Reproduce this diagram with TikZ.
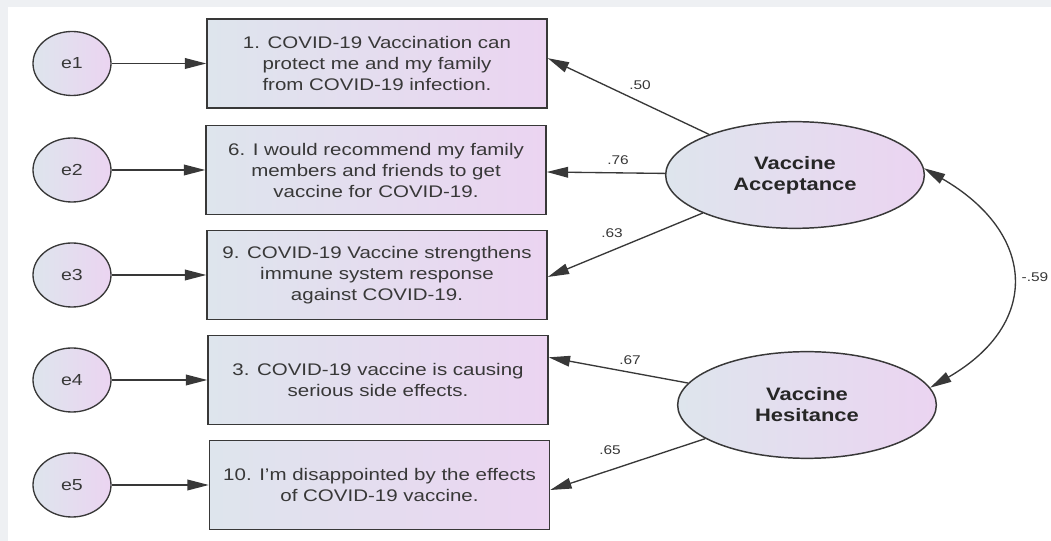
\documentclass[tikz,border=0pt]{standalone}
\usepackage{fontspec}
\setmainfont{Liberation Sans}[FakeStretch=1.22]
\usetikzlibrary{arrows.meta,shapes.geometric}
\definecolor{panelgray}{HTML}{EEF0F3}
\definecolor{fillleft}{HTML}{DEE5ED}
\definecolor{fillright}{HTML}{EBD4F1}
\definecolor{inkgray}{HTML}{383838}

\begin{document}
\begin{tikzpicture}[x=0.75pt, y=-0.75pt,
    item/.style={rectangle, draw=inkgray, line width=1.1pt, left color=fillleft, right color=fillright,
      minimum width=255pt, minimum height=66.75pt, inner sep=0pt, align=center, text=inkgray,
      font=\fontsize{12.6}{15.75}\selectfont},
    err/.style={ellipse, draw=inkgray, line width=1pt, left color=fillleft, right color=fillright,
      minimum width=58.5pt, minimum height=48pt, inner sep=0pt, text=inkgray,
      font=\fontsize{12}{14}\selectfont},
    latent/.style={ellipse, draw=inkgray, line width=1.1pt, left color=fillleft, right color=fillright,
      minimum width=194pt, minimum height=80pt, inner sep=0pt, align=center, text=black!85,
      font=\bfseries\fontsize{13.5}{15.75}\selectfont},
    load/.style={-{Triangle[length=16pt, width=8pt]}, line width=1pt, draw=inkgray},
    coef/.style={inner sep=0pt, text=inkgray, font=\fontsize{9.5}{11}\selectfont}]
    \fill[panelgray] (0,0) rectangle (1051,541);
    \fill[white] (8,7) rectangle (1051,541);
    \node[err] (e1) at (72,63.5) {e1};
    \node[err] (e2) at (72,170) {e2};
    \node[err] (e3) at (72,275) {e3};
    \node[err] (e4) at (72,380) {e4};
    \node[err] (e5) at (72,485) {e5};
    \node[item] (q1) at (377,63.5) {1. COVID-19 Vaccination can\\protect me and my family\\from COVID-19 infection.};
    \node[item] (q6) at (376,170) {6. I would recommend my family\\members and friends to get\\vaccine for COVID-19.};
    \node[item] (q9) at (377,275) {9. COVID-19 Vaccine strengthens\\immune system response\\against COVID-19.};
    \node[item] (q3) at (378,380) {3. COVID-19 vaccine is causing\\serious side effects.};
    \node[item] (q10) at (379.5,485) {10. I'm disappointed by the effects\\of COVID-19 vaccine.};
    \node[latent] (acc) at (795,175) {Vaccine\\Acceptance};
    \node[latent] (hes) at (807,405) {Vaccine\\Hesitance};
    \draw[load] (e1) -- (q1);
    \draw[load] (e2) -- (q6);
    \draw[load] (e3) -- (q9);
    \draw[load] (e4) -- (q3);
    \draw[load] (e5) -- (q10);
    \draw[load] (acc) -- ([yshift=4pt]q1.east);
    \draw[load] (acc) -- ([yshift=-1.5pt]q6.east);
    \draw[load] (acc) -- ([yshift=-1.5pt]q9.east);
    \draw[load] (hes) -- ([yshift=17pt]q3.east);
    \draw[load] (hes) -- ([yshift=-3.75pt]q10.east);
    \draw[{Triangle[length=16pt, width=8pt]}-{Triangle[length=16pt, width=8pt]}, line width=1pt, draw=inkgray]
      (acc.3) to[out=-30, in=30, looseness=1.5] (hes.8);
    \node[coef] (c50) at (640,85) {.50};
    \node[coef] (c76) at (618,160) {.76};
    \node[coef] (c63) at (612,233) {.63};
    \node[coef] (c67) at (630,360) {.67};
    \node[coef] (c65) at (610,450) {.65};
    \node[coef] (c59) at (1035,277) {-.59};
  \end{tikzpicture}
\end{document}
